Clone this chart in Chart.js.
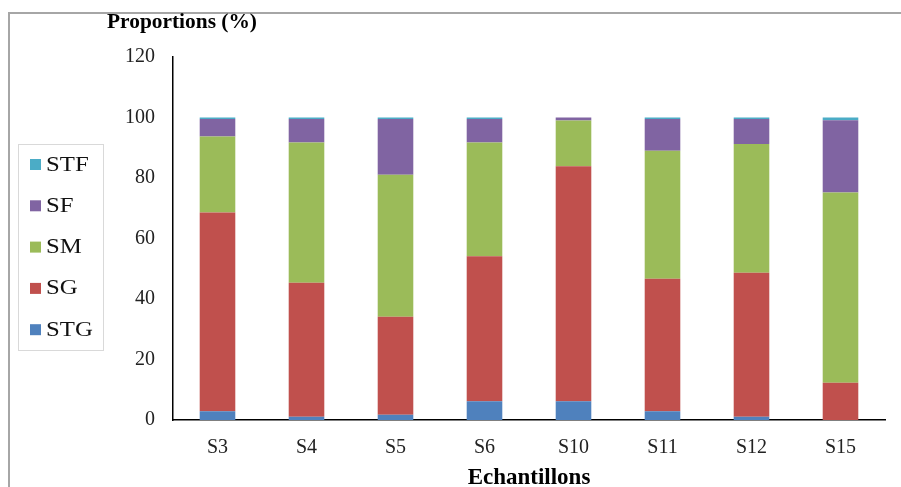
<!DOCTYPE html>
<html>
<head>
<meta charset="utf-8">
<script src="https://cdn.jsdelivr.net/npm/chart.js@4"></script>
<style>
  html, body { margin: 0; padding: 0; background: #fff; overflow: hidden; }
  #wrap { position: relative; width: 901px; height: 487px; }
</style>
</head>
<body>
<div id="wrap"><canvas id="c" width="901" height="487"></canvas></div>
<script>
// Grain-size fractions (%) per sample
const categories = ['S3', 'S4', 'S5', 'S6', 'S10', 'S11', 'S12', 'S15'];
const stg = [2.9, 1.1, 1.7, 6.2, 6.2, 2.9, 1.1, 0];
const sg  = [65.7, 44.3, 32.4, 47.9, 77.7, 43.8, 47.6, 12.3];
const sm  = [25.1, 46.3, 47.0, 37.6, 15.1, 42.3, 42.5, 62.9];
const sf  = [5.8, 7.8, 18.4, 7.8, 1.0, 10.5, 8.3, 23.9];
const stf = [0.5, 0.5, 0.5, 0.5, 0, 0.5, 0.5, 0.9];
const yTicks = [0, 20, 40, 60, 80, 100, 120];

const seriesNames = ['STG', 'SG', 'SM', 'SF', 'STF'];
const seriesData = [stg, sg, sm, sf, stf];
const seriesColors = ['#4F81BD', '#C0504D', '#9BBB59', '#8064A2', '#4BACC6'];

const SERIF = '"Liberation Serif", "DejaVu Serif", serif';

// Outer frame, y-axis heading and boxed legend on the left
const decorations = {
  id: 'decorations',
  afterDraw(chart) {
    const ctx = chart.ctx;
    ctx.save();
    // frame
    ctx.strokeStyle = '#a6a6a6';
    ctx.lineWidth = 2;
    ctx.beginPath();
    ctx.moveTo(9, 487);
    ctx.lineTo(9, 13);
    ctx.lineTo(901, 13);
    ctx.stroke();

    // y-axis heading (slightly widened serif)
    ctx.fillStyle = '#000';
    ctx.font = 'bold 20px ' + SERIF;
    ctx.textAlign = 'left';
    ctx.textBaseline = 'middle';
    ctx.save();
    ctx.translate(107, 23);
    ctx.scale(1.07, 1);
    ctx.fillText('Proportions (%)', 0, 0);
    ctx.restore();

    // legend box
    ctx.strokeStyle = '#d9d9d9';
    ctx.lineWidth = 1;
    ctx.strokeRect(18.5, 144.5, 85, 206);
    ctx.font = '21px ' + SERIF;
    const ds = chart.data.datasets;
    for (let i = 0; i < ds.length; i++) {
      const d = ds[ds.length - 1 - i];
      const cy = 164 + i * 41.3;
      ctx.fillStyle = d.backgroundColor;
      ctx.fillRect(30, cy - 5, 11, 11);
      ctx.fillStyle = '#111';
      ctx.save();
      ctx.translate(46, cy + 1);
      ctx.scale(1.18, 1);
      ctx.fillText(d.label, 0, 0);
      ctx.restore();
    }
    ctx.restore();
  }
};

const ctx = document.getElementById('c').getContext('2d');
new Chart(ctx, {
  type: 'bar',
  data: {
    labels: categories,
    datasets: seriesNames.map((name, i) => ({
      label: name,
      data: seriesData[i],
      backgroundColor: seriesColors[i],
      borderWidth: 0,
      barPercentage: 0.4,
      categoryPercentage: 1.0
    }))
  },
  options: {
    responsive: false,
    animation: false,
    devicePixelRatio: 1,
    layout: { padding: { top: 57, right: 16, left: 0, bottom: 0 } },
    plugins: {
      legend: { display: false },
      tooltip: { enabled: false }
    },
    scales: {
      x: {
        stacked: true,
        grid: { display: false, drawTicks: false },
        border: { display: true, color: '#000', width: 1.5 },
        ticks: { color: '#222', font: { family: SERIF, size: 20 }, padding: 16 },
        title: {
          display: true,
          text: 'Echantillons',
          color: '#000',
          font: { family: SERIF, size: 23, weight: 'bold' },
          padding: { top: 0, bottom: -5 }
        },
        afterFit(scale) { scale.height = 67; }
      },
      y: {
        stacked: true,
        min: 0,
        max: 120,
        grid: { display: false, drawTicks: false },
        border: { display: true, color: '#000', width: 1.5 },
        afterBuildTicks(scale) { scale.ticks = yTicks.map(v => ({ value: v })); },
        ticks: { color: '#222', font: { family: SERIF, size: 20 }, padding: 18 },
        afterFit(scale) { scale.width = 173; }
      }
    }
  },
  plugins: [decorations]
});
</script>
</body>
</html>
